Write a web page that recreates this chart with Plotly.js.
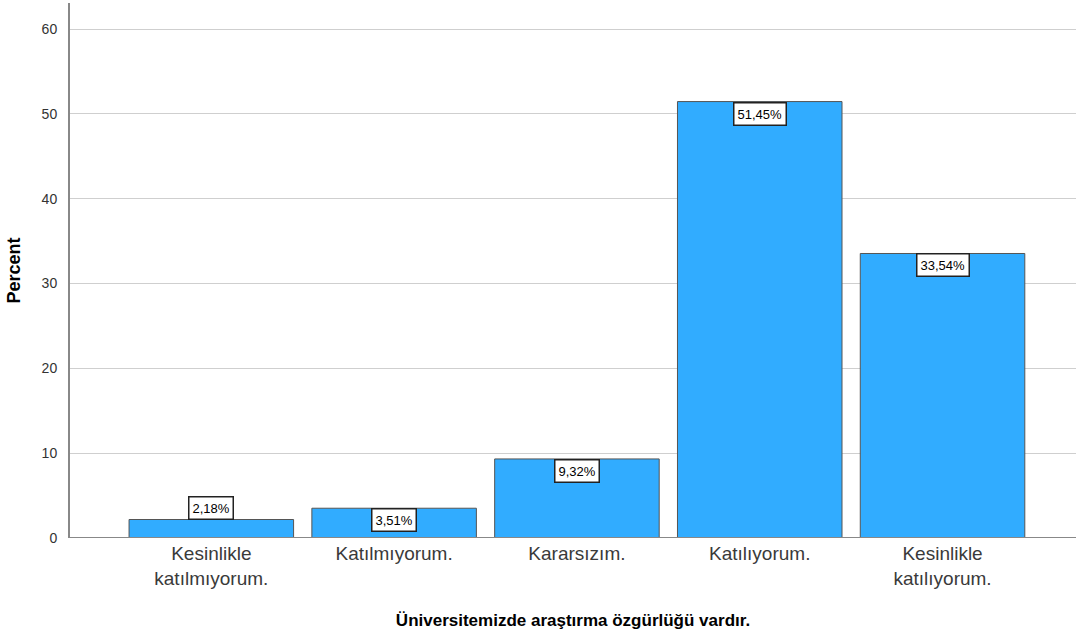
<!DOCTYPE html>
<html>
<head>
<meta charset="utf-8">
<script src="https://cdn.plot.ly/plotly-3.0.1.min.js"></script>
<style>html,body{margin:0;padding:0;background:#fff;}#chart{width:1079px;height:639px;}</style>
</head>
<body>
<div id="chart"></div>
<script>
const categories = ["Kesinlikle<br>katılmıyorum.", "Katılmıyorum.", "Kararsızım.", "Katılıyorum.", "Kesinlikle<br>katılıyorum."];
const percents = [2.18, 3.51, 9.32, 51.45, 33.54];
const labels = ["2,18%", "3,51%", "9,32%", "51,45%", "33,54%"];
const yTicks = [0, 10, 20, 30, 40, 50, 60];

const idx = categories.map((_, i) => i);
const trace = {
  type: 'bar', x: idx, y: percents, width: 0.9,
  marker: {color: '#31acff', line: {color: '#555555', width: 1}},
  hoverinfo: 'skip'
};
const annotations = percents.map((v, i) => ({
  x: i, y: v, xref: 'x', yref: 'y', text: labels[i], showarrow: false,
  yanchor: i === 0 ? 'bottom' : 'top',
  font: {family: 'Liberation Sans, Arial, sans-serif', size: 13, color: '#000'},
  bgcolor: '#ffffff', bordercolor: '#222222', borderwidth: 1.5, borderpad: 3
}));
const layout = {
  width: 1079, height: 639,
  margin: {l: 70, r: 3, t: 3, b: 101},
  paper_bgcolor: '#fff', plot_bgcolor: '#fff',
  showlegend: false, bargap: 0,
  font: {family: 'Liberation Sans, Arial, sans-serif'},
  xaxis: {
    range: [-0.773, 4.73], tickvals: idx, ticktext: categories,
    showgrid: false, zeroline: false, showline: false, ticks: '',
    tickfont: {size: 19, color: '#3a3a3a'}, ticklabelstandoff: 2,
    title: {text: 'Üniversitemizde araştırma özgürlüğü vardır.', font: {size: 17, color: '#000', weight: 'bold'}, standoff: 26}
  },
  yaxis: {
    range: [0, 63.07], tickvals: yTicks, ticks: '',
    showgrid: true, gridcolor: '#cfcfcf', gridwidth: 1,
    zeroline: false, showline: true, linecolor: '#888', linewidth: 2,
    tickfont: {size: 14, color: '#333'}, ticklabelstandoff: 8,
    title: {text: 'Percent', font: {size: 18, color: '#000', weight: 'bold'}, standoff: 16}
  },
  shapes: [{type: 'line', xref: 'paper', yref: 'y', x0: 0, x1: 1, y0: 0, y1: 0, line: {color: '#888', width: 2}}],
  annotations: annotations
};
Plotly.newPlot('chart', [trace], layout, {staticPlot: true, displayModeBar: false});
</script>
</body>
</html>
